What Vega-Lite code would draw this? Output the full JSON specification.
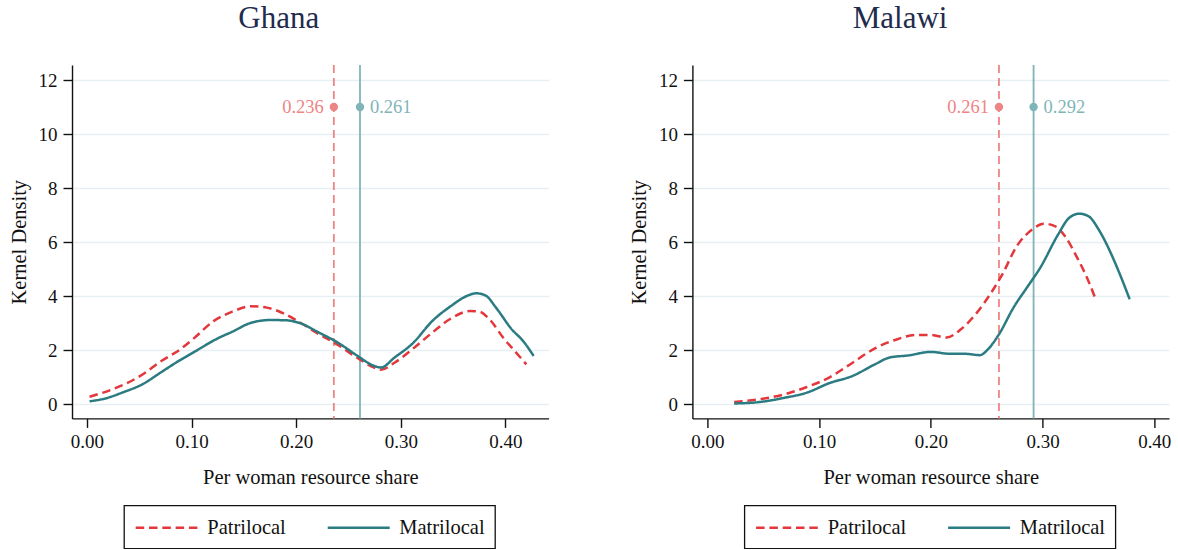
{
  "$schema": "https://vega.github.io/schema/vega-lite/v6.json",
  "padding": {"left": 9, "top": 2, "right": 0, "bottom": 0},
  "bounds": "flush",
  "spacing": 143.4,
  "background": "white",
  "datasets": {
    "curves": [
      {"country": "Ghana", "group": "Patrilocal", "share": 0.0025, "density": 0.27},
      {"country": "Ghana", "group": "Patrilocal", "share": 0.024, "density": 0.54},
      {"country": "Ghana", "group": "Patrilocal", "share": 0.051, "density": 1.04},
      {"country": "Ghana", "group": "Patrilocal", "share": 0.071, "density": 1.59},
      {"country": "Ghana", "group": "Patrilocal", "share": 0.089, "density": 2.02},
      {"country": "Ghana", "group": "Patrilocal", "share": 0.103, "density": 2.46},
      {"country": "Ghana", "group": "Patrilocal", "share": 0.121, "density": 3.07},
      {"country": "Ghana", "group": "Patrilocal", "share": 0.139, "density": 3.42},
      {"country": "Ghana", "group": "Patrilocal", "share": 0.157, "density": 3.62},
      {"country": "Ghana", "group": "Patrilocal", "share": 0.172, "density": 3.57},
      {"country": "Ghana", "group": "Patrilocal", "share": 0.190, "density": 3.32},
      {"country": "Ghana", "group": "Patrilocal", "share": 0.204, "density": 3.01},
      {"country": "Ghana", "group": "Patrilocal", "share": 0.222, "density": 2.58},
      {"country": "Ghana", "group": "Patrilocal", "share": 0.240, "density": 2.19},
      {"country": "Ghana", "group": "Patrilocal", "share": 0.258, "density": 1.72},
      {"country": "Ghana", "group": "Patrilocal", "share": 0.274, "density": 1.36},
      {"country": "Ghana", "group": "Patrilocal", "share": 0.281, "density": 1.27},
      {"country": "Ghana", "group": "Patrilocal", "share": 0.294, "density": 1.53},
      {"country": "Ghana", "group": "Patrilocal", "share": 0.312, "density": 2.06},
      {"country": "Ghana", "group": "Patrilocal", "share": 0.330, "density": 2.64},
      {"country": "Ghana", "group": "Patrilocal", "share": 0.348, "density": 3.17},
      {"country": "Ghana", "group": "Patrilocal", "share": 0.366, "density": 3.44},
      {"country": "Ghana", "group": "Patrilocal", "share": 0.375, "density": 3.42},
      {"country": "Ghana", "group": "Patrilocal", "share": 0.384, "density": 3.17},
      {"country": "Ghana", "group": "Patrilocal", "share": 0.399, "density": 2.40},
      {"country": "Ghana", "group": "Patrilocal", "share": 0.409, "density": 1.96},
      {"country": "Ghana", "group": "Patrilocal", "share": 0.420, "density": 1.47},
      {"country": "Ghana", "group": "Matrilocal", "share": 0.0025, "density": 0.10},
      {"country": "Ghana", "group": "Matrilocal", "share": 0.017, "density": 0.20},
      {"country": "Ghana", "group": "Matrilocal", "share": 0.035, "density": 0.44},
      {"country": "Ghana", "group": "Matrilocal", "share": 0.053, "density": 0.73},
      {"country": "Ghana", "group": "Matrilocal", "share": 0.071, "density": 1.18},
      {"country": "Ghana", "group": "Matrilocal", "share": 0.085, "density": 1.53},
      {"country": "Ghana", "group": "Matrilocal", "share": 0.103, "density": 1.94},
      {"country": "Ghana", "group": "Matrilocal", "share": 0.125, "density": 2.43},
      {"country": "Ghana", "group": "Matrilocal", "share": 0.139, "density": 2.68},
      {"country": "Ghana", "group": "Matrilocal", "share": 0.157, "density": 3.01},
      {"country": "Ghana", "group": "Matrilocal", "share": 0.175, "density": 3.11},
      {"country": "Ghana", "group": "Matrilocal", "share": 0.190, "density": 3.10},
      {"country": "Ghana", "group": "Matrilocal", "share": 0.204, "density": 2.99},
      {"country": "Ghana", "group": "Matrilocal", "share": 0.222, "density": 2.64},
      {"country": "Ghana", "group": "Matrilocal", "share": 0.240, "density": 2.27},
      {"country": "Ghana", "group": "Matrilocal", "share": 0.258, "density": 1.80},
      {"country": "Ghana", "group": "Matrilocal", "share": 0.274, "density": 1.42},
      {"country": "Ghana", "group": "Matrilocal", "share": 0.281, "density": 1.35},
      {"country": "Ghana", "group": "Matrilocal", "share": 0.294, "density": 1.72},
      {"country": "Ghana", "group": "Matrilocal", "share": 0.312, "density": 2.27},
      {"country": "Ghana", "group": "Matrilocal", "share": 0.330, "density": 3.07},
      {"country": "Ghana", "group": "Matrilocal", "share": 0.348, "density": 3.63},
      {"country": "Ghana", "group": "Matrilocal", "share": 0.363, "density": 4.00},
      {"country": "Ghana", "group": "Matrilocal", "share": 0.372, "density": 4.10},
      {"country": "Ghana", "group": "Matrilocal", "share": 0.381, "density": 4.02},
      {"country": "Ghana", "group": "Matrilocal", "share": 0.391, "density": 3.57},
      {"country": "Ghana", "group": "Matrilocal", "share": 0.406, "density": 2.77},
      {"country": "Ghana", "group": "Matrilocal", "share": 0.417, "density": 2.33},
      {"country": "Ghana", "group": "Matrilocal", "share": 0.427, "density": 1.78},
      {"country": "Malawi", "group": "Patrilocal", "share": 0.024, "density": 0.07},
      {"country": "Malawi", "group": "Patrilocal", "share": 0.046, "density": 0.17},
      {"country": "Malawi", "group": "Patrilocal", "share": 0.069, "density": 0.36},
      {"country": "Malawi", "group": "Patrilocal", "share": 0.089, "density": 0.63},
      {"country": "Malawi", "group": "Patrilocal", "share": 0.109, "density": 0.98},
      {"country": "Malawi", "group": "Patrilocal", "share": 0.130, "density": 1.53},
      {"country": "Malawi", "group": "Patrilocal", "share": 0.150, "density": 2.06},
      {"country": "Malawi", "group": "Patrilocal", "share": 0.170, "density": 2.40},
      {"country": "Malawi", "group": "Patrilocal", "share": 0.187, "density": 2.56},
      {"country": "Malawi", "group": "Patrilocal", "share": 0.200, "density": 2.56},
      {"country": "Malawi", "group": "Patrilocal", "share": 0.214, "density": 2.46},
      {"country": "Malawi", "group": "Patrilocal", "share": 0.227, "density": 2.77},
      {"country": "Malawi", "group": "Patrilocal", "share": 0.240, "density": 3.32},
      {"country": "Malawi", "group": "Patrilocal", "share": 0.254, "density": 4.12},
      {"country": "Malawi", "group": "Patrilocal", "share": 0.264, "density": 4.80},
      {"country": "Malawi", "group": "Patrilocal", "share": 0.277, "density": 5.85},
      {"country": "Malawi", "group": "Patrilocal", "share": 0.291, "density": 6.47},
      {"country": "Malawi", "group": "Patrilocal", "share": 0.301, "density": 6.68},
      {"country": "Malawi", "group": "Patrilocal", "share": 0.311, "density": 6.59},
      {"country": "Malawi", "group": "Patrilocal", "share": 0.321, "density": 6.16},
      {"country": "Malawi", "group": "Patrilocal", "share": 0.331, "density": 5.42},
      {"country": "Malawi", "group": "Patrilocal", "share": 0.339, "density": 4.75},
      {"country": "Malawi", "group": "Patrilocal", "share": 0.348, "density": 3.84},
      {"country": "Malawi", "group": "Matrilocal", "share": 0.024, "density": 0.02},
      {"country": "Malawi", "group": "Matrilocal", "share": 0.046, "density": 0.07},
      {"country": "Malawi", "group": "Matrilocal", "share": 0.069, "density": 0.23},
      {"country": "Malawi", "group": "Matrilocal", "share": 0.089, "density": 0.42},
      {"country": "Malawi", "group": "Matrilocal", "share": 0.109, "density": 0.77},
      {"country": "Malawi", "group": "Matrilocal", "share": 0.130, "density": 1.04},
      {"country": "Malawi", "group": "Matrilocal", "share": 0.150, "density": 1.47},
      {"country": "Malawi", "group": "Matrilocal", "share": 0.163, "density": 1.72},
      {"country": "Malawi", "group": "Matrilocal", "share": 0.180, "density": 1.80},
      {"country": "Malawi", "group": "Matrilocal", "share": 0.200, "density": 1.93},
      {"country": "Malawi", "group": "Matrilocal", "share": 0.217, "density": 1.86},
      {"country": "Malawi", "group": "Matrilocal", "share": 0.230, "density": 1.86},
      {"country": "Malawi", "group": "Matrilocal", "share": 0.244, "density": 1.81},
      {"country": "Malawi", "group": "Matrilocal", "share": 0.251, "density": 2.02},
      {"country": "Malawi", "group": "Matrilocal", "share": 0.261, "density": 2.58},
      {"country": "Malawi", "group": "Matrilocal", "share": 0.274, "density": 3.57},
      {"country": "Malawi", "group": "Matrilocal", "share": 0.287, "density": 4.37},
      {"country": "Malawi", "group": "Matrilocal", "share": 0.298, "density": 5.05},
      {"country": "Malawi", "group": "Matrilocal", "share": 0.314, "density": 6.28},
      {"country": "Malawi", "group": "Matrilocal", "share": 0.324, "density": 6.90},
      {"country": "Malawi", "group": "Matrilocal", "share": 0.333, "density": 7.05},
      {"country": "Malawi", "group": "Matrilocal", "share": 0.341, "density": 6.96},
      {"country": "Malawi", "group": "Matrilocal", "share": 0.351, "density": 6.41},
      {"country": "Malawi", "group": "Matrilocal", "share": 0.361, "density": 5.60},
      {"country": "Malawi", "group": "Matrilocal", "share": 0.368, "density": 4.93},
      {"country": "Malawi", "group": "Matrilocal", "share": 0.378, "density": 3.88}
    ],
    "means": [
      {"country": "Ghana", "group": "Patrilocal", "share": 0.236},
      {"country": "Ghana", "group": "Matrilocal", "share": 0.261},
      {"country": "Malawi", "group": "Patrilocal", "share": 0.261},
      {"country": "Malawi", "group": "Matrilocal", "share": 0.292}
    ]
  },
  "config": {
    "view": {"stroke": null},
    "font": "Liberation Serif",
    "title": {"font": "Liberation Serif", "fontSize": 31, "fontWeight": "normal", "color": "#1f2c4e", "frame": "bounds", "anchor": "middle", "baseline": "alphabetic", "offset": 29.2},
    "axis": {
      "labelFont": "Liberation Serif", "titleFont": "Liberation Serif",
      "labelFontSize": 19, "titleFontSize": 20.5, "titleFontWeight": "normal",
      "labelColor": "#111111", "titleColor": "#111111",
      "domainColor": "#111111", "tickColor": "#111111",
      "domainWidth": 1.4, "tickWidth": 1.4, "tickSize": 9,
      "gridColor": "#e6eff1", "gridWidth": 1.6
    },
    "axisX": {"grid": false, "labelPadding": 5.5, "titlePadding": 15.5},
    "axisY": {"grid": true, "labelPadding": 6, "titlePadding": 9},
    "legend": {
      "strokeColor": "#111111", "strokeWidth": 1.3, "padding": 10,
      "symbolType": "M-3,0H3", "symbolSize": 427, "symbolOffset": 20.7, "symbolStrokeWidth": 2.5,
      "labelFont": "Liberation Serif", "labelFontSize": 20.5, "labelOffset": 28.6,
      "columnPadding": 36, "labelColor": "#111111"
    }
  },
  "resolve": {"scale": {"color": "independent", "strokeDash": "independent"}, "legend": {"color": "independent", "strokeDash": "independent"}},
  "hconcat": [
    {
      "title": {"text": "Ghana"},
      "width": 476.6,
      "height": 353.4,
      "layer": [
        {"data": {"name": "means"}, "transform": [{"filter": "datum.country === 'Ghana' && datum.group === 'Patrilocal'"}],
         "mark": {"type": "rule", "color": "#ee8585", "strokeWidth": 1.8, "strokeDash": [8, 5]},
         "encoding": {"x": {"field": "share", "type": "quantitative"}}},
        {"data": {"name": "means"}, "transform": [{"filter": "datum.country === 'Ghana' && datum.group === 'Matrilocal'"}],
         "mark": {"type": "rule", "color": "#7fb5b9", "strokeWidth": 1.8},
         "encoding": {"x": {"field": "share", "type": "quantitative"}}},
        {"data": {"name": "curves"}, "transform": [{"filter": "datum.country === 'Ghana'"}],
         "mark": {"type": "line", "strokeWidth": 2.5, "interpolate": "monotone"},
         "encoding": {
           "x": {"field": "share", "type": "quantitative", "scale": {"domain": [-0.0143, 0.4413], "nice": false, "zero": false}, "axis": {"values": [0, 0.1, 0.2, 0.3, 0.4], "format": ".2f", "title": "Per woman resource share"}},
           "y": {"field": "density", "type": "quantitative", "scale": {"domain": [-0.533, 12.556], "nice": false, "zero": false}, "axis": {"values": [0, 2, 4, 6, 8, 10, 12], "title": "Kernel Density"}},
           "color": {"field": "group", "type": "nominal", "scale": {"domain": ["Patrilocal", "Matrilocal"], "range": ["#e3373c", "#2b7c82"]}, "legend": {"title": null, "orient": "none", "legendX": 52, "legendY": 440.5, "direction": "horizontal"}},
           "strokeDash": {"field": "group", "type": "nominal", "scale": {"domain": ["Patrilocal", "Matrilocal"], "range": [[8.5, 4.8], [1, 0]]}, "legend": {"title": null, "orient": "none", "legendX": 52, "legendY": 440.5, "direction": "horizontal"}}
         }},
        {"data": {"name": "means"}, "transform": [{"filter": "datum.country === 'Ghana' && datum.group === 'Patrilocal'"}],
         "mark": {"type": "circle", "color": "#ee8585", "opacity": 1, "size": 70},
         "encoding": {"x": {"field": "share", "type": "quantitative"}, "y": {"datum": 11}}},
        {"data": {"name": "means"}, "transform": [{"filter": "datum.country === 'Ghana' && datum.group === 'Matrilocal'"}],
         "mark": {"type": "circle", "color": "#7fb5b9", "opacity": 1, "size": 70},
         "encoding": {"x": {"field": "share", "type": "quantitative"}, "y": {"datum": 11}}},
        {"data": {"name": "means"}, "transform": [{"filter": "datum.country === 'Ghana' && datum.group === 'Patrilocal'"}],
         "mark": {"type": "text", "color": "#ee8585", "align": "right", "baseline": "middle", "dx": -10, "font": "Liberation Serif", "fontSize": 18.5},
         "encoding": {"x": {"field": "share", "type": "quantitative"}, "y": {"datum": 11}, "text": {"field": "share", "type": "quantitative", "format": ".3f"}}},
        {"data": {"name": "means"}, "transform": [{"filter": "datum.country === 'Ghana' && datum.group === 'Matrilocal'"}],
         "mark": {"type": "text", "color": "#7fb5b9", "align": "left", "baseline": "middle", "dx": 10, "font": "Liberation Serif", "fontSize": 18.5},
         "encoding": {"x": {"field": "share", "type": "quantitative"}, "y": {"datum": 11}, "text": {"field": "share", "type": "quantitative", "format": ".3f"}}}
      ]
    },
    {
      "title": {"text": "Malawi"},
      "width": 476.6,
      "height": 353.4,
      "layer": [
        {"data": {"name": "means"}, "transform": [{"filter": "datum.country === 'Malawi' && datum.group === 'Patrilocal'"}],
         "mark": {"type": "rule", "color": "#ee8585", "strokeWidth": 1.8, "strokeDash": [8, 5]},
         "encoding": {"x": {"field": "share", "type": "quantitative"}}},
        {"data": {"name": "means"}, "transform": [{"filter": "datum.country === 'Malawi' && datum.group === 'Matrilocal'"}],
         "mark": {"type": "rule", "color": "#7fb5b9", "strokeWidth": 1.8},
         "encoding": {"x": {"field": "share", "type": "quantitative"}}},
        {"data": {"name": "curves"}, "transform": [{"filter": "datum.country === 'Malawi'"}],
         "mark": {"type": "line", "strokeWidth": 2.5, "interpolate": "monotone"},
         "encoding": {
           "x": {"field": "share", "type": "quantitative", "scale": {"domain": [-0.0134, 0.4132], "nice": false, "zero": false}, "axis": {"values": [0, 0.1, 0.2, 0.3, 0.4], "format": ".2f", "title": "Per woman resource share"}},
           "y": {"field": "density", "type": "quantitative", "scale": {"domain": [-0.533, 12.556], "nice": false, "zero": false}, "axis": {"values": [0, 2, 4, 6, 8, 10, 12], "title": "Kernel Density"}},
           "color": {"field": "group", "type": "nominal", "scale": {"domain": ["Patrilocal", "Matrilocal"], "range": ["#e3373c", "#2b7c82"]}, "legend": {"title": null, "orient": "none", "legendX": 52, "legendY": 440.5, "direction": "horizontal"}},
           "strokeDash": {"field": "group", "type": "nominal", "scale": {"domain": ["Patrilocal", "Matrilocal"], "range": [[8.5, 4.8], [1, 0]]}, "legend": {"title": null, "orient": "none", "legendX": 52, "legendY": 440.5, "direction": "horizontal"}}
         }},
        {"data": {"name": "means"}, "transform": [{"filter": "datum.country === 'Malawi' && datum.group === 'Patrilocal'"}],
         "mark": {"type": "circle", "color": "#ee8585", "opacity": 1, "size": 70},
         "encoding": {"x": {"field": "share", "type": "quantitative"}, "y": {"datum": 11}}},
        {"data": {"name": "means"}, "transform": [{"filter": "datum.country === 'Malawi' && datum.group === 'Matrilocal'"}],
         "mark": {"type": "circle", "color": "#7fb5b9", "opacity": 1, "size": 70},
         "encoding": {"x": {"field": "share", "type": "quantitative"}, "y": {"datum": 11}}},
        {"data": {"name": "means"}, "transform": [{"filter": "datum.country === 'Malawi' && datum.group === 'Patrilocal'"}],
         "mark": {"type": "text", "color": "#ee8585", "align": "right", "baseline": "middle", "dx": -10, "font": "Liberation Serif", "fontSize": 18.5},
         "encoding": {"x": {"field": "share", "type": "quantitative"}, "y": {"datum": 11}, "text": {"field": "share", "type": "quantitative", "format": ".3f"}}},
        {"data": {"name": "means"}, "transform": [{"filter": "datum.country === 'Malawi' && datum.group === 'Matrilocal'"}],
         "mark": {"type": "text", "color": "#7fb5b9", "align": "left", "baseline": "middle", "dx": 10, "font": "Liberation Serif", "fontSize": 18.5},
         "encoding": {"x": {"field": "share", "type": "quantitative"}, "y": {"datum": 11}, "text": {"field": "share", "type": "quantitative", "format": ".3f"}}}
      ]
    }
  ]
}
